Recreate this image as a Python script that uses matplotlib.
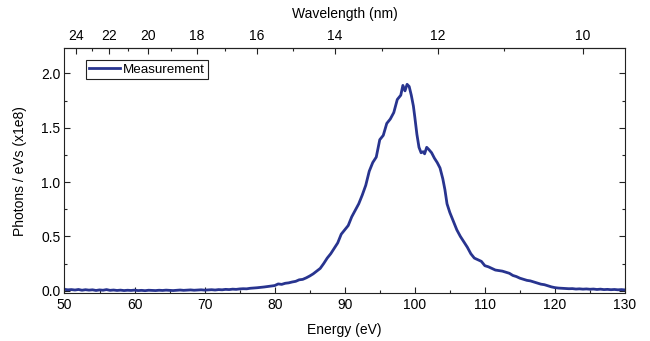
import matplotlib
matplotlib.use('Agg')
import matplotlib.pyplot as plt
from matplotlib.ticker import MultipleLocator, FixedLocator

plt.rcParams['font.family'] = ['Liberation Sans', 'DejaVu Sans']

LINE = '#28348F'
AXC = '#222222'

# Measured spectrum (photon energy in eV, photons / eVs in units of 1e8)
energy_ev = [
    50.0, 50.5, 51.0, 51.5, 52.0, 52.5, 53.0, 53.5, 54.0, 54.5,
    55.0, 55.5, 56.0, 56.5, 57.0, 57.5, 58.0, 58.5, 59.0, 59.5,
    60.0, 60.5, 61.0, 61.5, 62.0, 62.5, 63.0, 63.5, 64.0, 64.5,
    65.0, 65.5, 66.0, 66.5, 67.0, 67.5, 68.0, 68.5, 69.0, 69.5,
    70.0, 70.5, 71.0, 71.5, 72.0, 72.5, 73.0, 73.5, 74.0, 74.5,
    75.0, 75.5, 76.0, 76.5, 77.0, 77.5, 78.0, 78.5, 79.0, 79.5,
    80.0, 80.5, 81.0, 81.5, 82.0, 82.5, 83.0, 83.5, 84.0, 84.5,
    85.0, 85.5, 86.0, 86.5, 87.0, 87.5, 88.0, 88.5, 89.0, 89.5,
    90.0, 90.5, 91.0, 91.5, 92.0, 92.5, 93.0, 93.5, 94.0, 94.5,
    95.0, 95.5, 96.0, 96.5, 97.0, 97.5, 98.0, 98.3, 98.6, 98.9,
    99.2, 99.5, 99.8, 100.0, 100.3, 100.6, 100.9, 101.2, 101.4, 101.7,
    102.0, 102.4, 102.8, 103.2, 103.6, 104.0, 104.3, 104.6, 105.0, 105.5,
    106.0, 106.5, 107.0, 107.5, 108.0, 108.5, 109.0, 109.5, 110.0, 110.5,
    111.0, 111.5, 112.0, 112.5, 113.0, 113.5, 114.0, 114.5, 115.0, 115.5,
    116.0, 116.5, 117.0, 117.5, 118.0, 118.5, 119.0, 119.5, 120.0, 120.5,
    121.0, 121.5, 122.0, 122.5, 123.0, 123.5, 124.0, 124.5, 125.0, 125.5,
    126.0, 126.5, 127.0, 127.5, 128.0, 128.5, 129.0, 129.5, 130.0,
]
photons = [
    0.012, 0.008, 0.010, 0.006, 0.011, 0.004, 0.009, 0.005, 0.008, 0.002,
    0.007, 0.004, 0.010, 0.003, 0.006, 0.002, 0.005, 0.001, 0.004, 0.002,
    0.005, 0.001, 0.003, 0.000, 0.004, 0.002, 0.001, 0.004, 0.002, 0.005,
    0.003, 0.001, 0.004, 0.006, 0.003, 0.005, 0.007, 0.004, 0.006, 0.008,
    0.005, 0.007, 0.009, 0.006, 0.010, 0.008, 0.012, 0.010, 0.014, 0.012,
    0.016, 0.018, 0.017, 0.022, 0.024, 0.027, 0.030, 0.034, 0.038, 0.043,
    0.047, 0.062, 0.058, 0.068, 0.072, 0.080, 0.086, 0.100, 0.104, 0.118,
    0.135, 0.155, 0.180, 0.205, 0.250, 0.300, 0.340, 0.390, 0.440, 0.520,
    0.560, 0.600, 0.680, 0.740, 0.800, 0.880, 0.970, 1.100, 1.180, 1.230,
    1.390, 1.430, 1.540, 1.580, 1.640, 1.760, 1.800, 1.890, 1.840, 1.900,
    1.880, 1.800, 1.700, 1.600, 1.440, 1.320, 1.270, 1.280, 1.260, 1.320,
    1.300, 1.270, 1.220, 1.180, 1.130, 1.030, 0.930, 0.800, 0.720, 0.640,
    0.560, 0.500, 0.450, 0.400, 0.340, 0.300, 0.285, 0.270, 0.230, 0.220,
    0.205, 0.190, 0.185, 0.180, 0.170, 0.160, 0.140, 0.130, 0.115, 0.105,
    0.095, 0.090, 0.080, 0.070, 0.060, 0.055, 0.045, 0.035, 0.028, 0.024,
    0.022, 0.020, 0.018, 0.019, 0.015, 0.017, 0.014, 0.016, 0.013, 0.015,
    0.011, 0.014, 0.010, 0.012, 0.009, 0.011, 0.008, 0.010, 0.007,
]

wl_major = [24, 22, 20, 18, 16, 14, 12, 10]
wl_minor = [23, 21, 19, 17, 15, 13, 11]

HC = 1239.84  # eV*nm


def e_to_nm(e):
    return HC / e


FS = 10

fig = plt.figure(figsize=(6.5, 3.41), dpi=100)
ax = fig.add_axes([0.0992, 0.1393, 0.8623, 0.7185])

ax.plot(energy_ev, photons, color=LINE, lw=2.0, label='Measurement')

ax.set_xlim(50, 130)
ax.set_ylim(-0.026, 2.23)
ax.xaxis.set_major_locator(MultipleLocator(10))
ax.xaxis.set_minor_locator(MultipleLocator(5))
ax.yaxis.set_major_locator(MultipleLocator(0.5))
ax.yaxis.set_minor_locator(MultipleLocator(0.25))
ax.yaxis.set_major_formatter(plt.FuncFormatter(lambda v, p: f'{v:.1f}'))

ax.tick_params(which='both', direction='in', top=False, right=True,
               color=AXC, labelsize=FS, width=0.8)
ax.tick_params(which='major', length=4, pad=3)
ax.tick_params(which='minor', length=2.5)
for s in ax.spines.values():
    s.set_color(AXC)
    s.set_linewidth(0.8)

ax.set_xlabel('Energy (eV)', fontsize=FS, labelpad=8.5)
ax.set_ylabel('Photons / eVs (x1e8)', fontsize=FS, labelpad=10)

top = ax.secondary_xaxis('top', functions=(e_to_nm, e_to_nm))
top.xaxis.set_major_locator(FixedLocator(wl_major))
top.xaxis.set_minor_locator(FixedLocator(wl_minor))
top.tick_params(which='both', direction='in', color=AXC, labelsize=FS, width=0.8)
top.tick_params(which='major', length=4, pad=4)
top.tick_params(which='minor', length=2.5)
top.spines['top'].set_color(AXC)
top.spines['top'].set_linewidth(0.8)
top.set_xlabel('Wavelength (nm)', fontsize=FS, labelpad=8)

leg = ax.legend(loc='upper left', bbox_to_anchor=(0.038, 0.953), borderaxespad=0,
                fontsize=9.6, handlelength=2.3, handletextpad=0.2, borderpad=0.25,
                fancybox=False, framealpha=1, edgecolor=AXC)
leg.get_frame().set_linewidth(0.8)

plt.savefig('out.png', dpi=100)
plt.close()
